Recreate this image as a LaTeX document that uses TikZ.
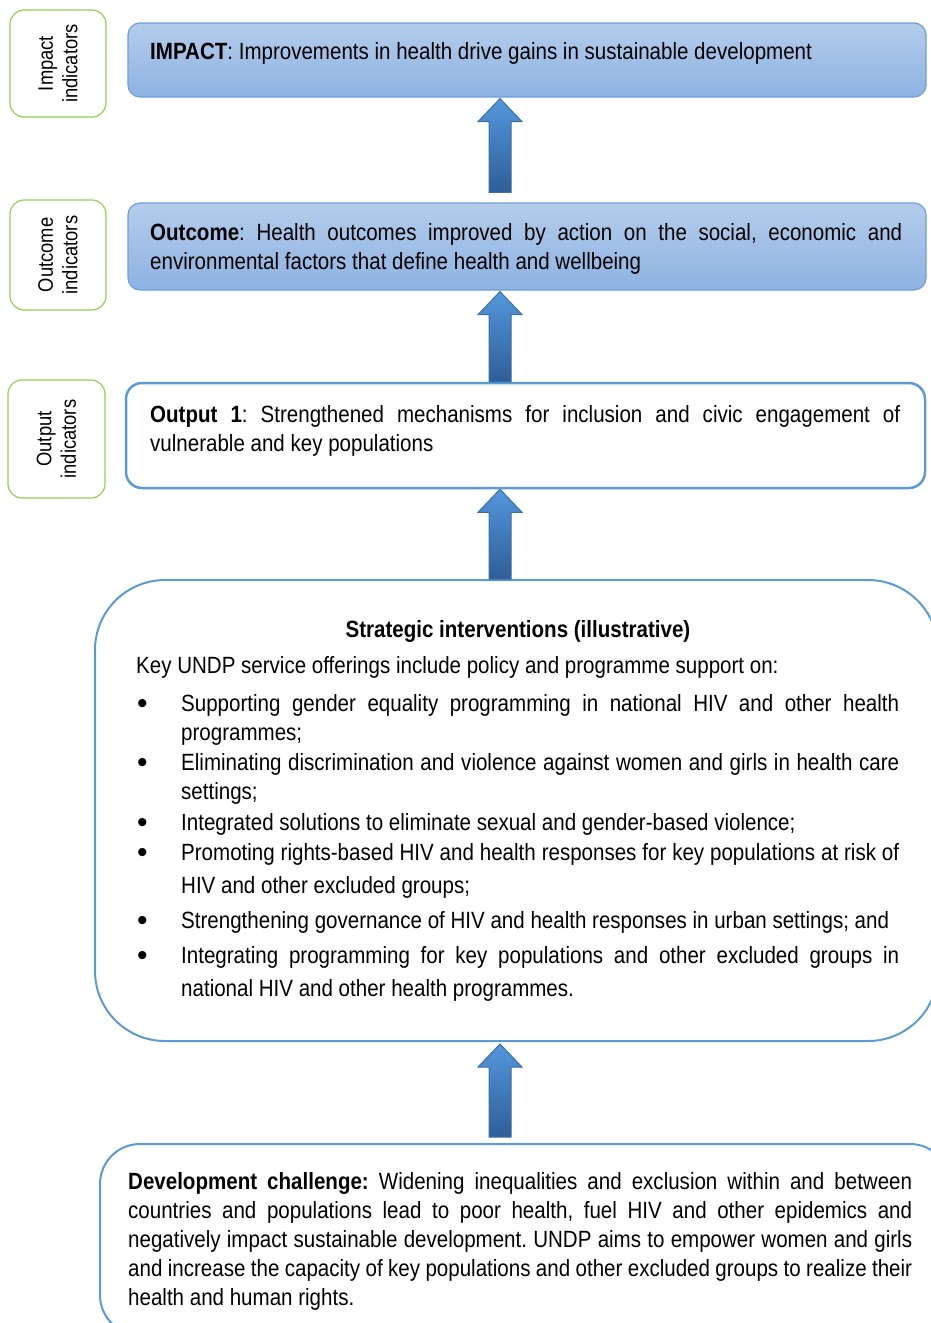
\documentclass[tikz,border=0pt]{standalone}
\usepackage{fontspec}
\setmainfont[FakeStretch=0.874]{Liberation Sans}
\newfontfamily\bulletfont{Liberation Sans}
\usetikzlibrary{calc}
\definecolor{boxtop}{HTML}{B4CCEB}
\definecolor{boxbot}{HTML}{8DB3E2}
\definecolor{boxline}{HTML}{6E9FD8}
\definecolor{arrtop}{HTML}{5497DC}
\definecolor{arrbot}{HTML}{2E5E97}
\definecolor{arrline}{HTML}{3A6EAE}
\definecolor{framecol}{HTML}{5B9BD5}
\definecolor{indgreen}{HTML}{92D050}
\newcommand\blockarrow[2]{%
  \draw[bigarrow] (#1) -- ++(22,23) -- ++(-11,0) -- ($(#2)+(11,0)$) -- ($(#2)+(-11,0)$)
    -- ($(#1)+(-11,23)$) -- ++(-11,0) -- cycle;}
\newcommand\bul{\makebox[45pt][l]{\hspace{1pt}\raisebox{-2pt}{\bulletfont\fontsize{30}{29}\selectfont\textbullet}}}
\frenchspacing
\begin{document}
\begin{tikzpicture}[x=1pt,y=-1pt,
  sidebox/.style={draw=indgreen, line width=1.2pt, rounded corners=14pt, fill=white},
  bluebox/.style={draw=boxline, line width=1.2pt, rounded corners=12pt, top color=boxtop, bottom color=boxbot},
  whitebox/.style={draw=framecol, line width=2.5pt, fill=white},
  sidelabel/.style={rotate=90, align=center, font=\fontsize{21}{24.5}\selectfont\frenchspacing, inner sep=0pt},
  bodytext/.style={font=\fontsize{23.5}{29}\selectfont\frenchspacing, inner sep=0pt, align=justify, anchor=north west},
  widetext/.style={font=\fontsize{23.5}{33}\selectfont\frenchspacing, inner sep=0pt, align=justify, anchor=north west},
  linetext/.style={font=\fontsize{23.5}{29}\selectfont\frenchspacing, inner sep=0pt, anchor=base west},
  bigarrow/.style={draw=arrline, line width=1pt, top color=arrtop, bottom color=arrbot},
]
\useasboundingbox (0,0) rectangle (931,1323);
\begin{scope}
\clip (0,0) rectangle (931,1323);
% side indicator boxes
\node[sidebox, minimum width=96pt, minimum height=107pt] (impside) at (58,63.5) {};
\node[sidelabel] (implab) at (impside.center) {Impact\\indicators};
\node[sidebox, minimum width=96pt, minimum height=110pt] (outcside) at (58,255) {};
\node[sidelabel] (outclab) at (outcside.center) {Outcome\\indicators};
\node[sidebox, minimum width=97pt, minimum height=118pt] (outpside) at (56.5,439) {};
\node[sidelabel] (outplab) at (outpside.center) {Output\\indicators};
% main boxes
\node[bluebox, minimum width=798pt, minimum height=74pt] (impact) at (527,60) {};
\node[bluebox, minimum width=798pt, minimum height=87pt] (outcome) at (527,246.5) {};
\node[whitebox, rounded corners=16pt, minimum width=799pt, minimum height=105pt] (output) at (525.5,435.5) {};
\node[whitebox, line width=2pt, rounded corners=70pt, minimum width=843pt, minimum height=461pt] (strat) at (516.5,810.5) {};
\node[whitebox, line width=2pt, rounded corners=40pt, minimum width=850pt, minimum height=191pt] (dev) at (525,1239.5) {};
% arrows
\coordinate (ax) at (500,0);
\coordinate (t1) at ($(ax |- impact.south)+(0,1)$);
\coordinate (b1) at ($(ax |- outcome.north)+(0,-10)$);
\coordinate (t2) at ($(ax |- outcome.south)+(0,1)$);
\coordinate (b2) at (ax |- output.north);
\coordinate (t3) at (ax |- output.south);
\coordinate (b3) at (ax |- strat.north);
\coordinate (t4) at ($(ax |- strat.south)+(0,2)$);
\coordinate (b4) at ($(ax |- dev.north)+(0,-6)$);
\blockarrow{t1}{b1}
\blockarrow{t2}{b2}
\blockarrow{t3}{b3}
\blockarrow{t4}{b4}
% texts
\node[linetext] (imptext) at (150,59) {\textbf{IMPACT}: Improvements in health drive gains in sustainable development};
\node[bodytext, text width=752pt] (outctext) at (150,219.7) {\strut\textbf{Outcome}: Health outcomes improved by action on the social, economic and\linebreak environmental factors that define health and wellbeing\par};
\node[bodytext, text width=750pt] (outptext) at (150,401.7) {\strut\textbf{Output 1}: Strengthened mechanisms for inclusion and civic engagement of\linebreak vulnerable and key populations\par};
\node[font=\fontsize{23.5}{29}\selectfont\bfseries, inner sep=0pt, anchor=base] (strattitle) at (518,637) {Strategic interventions (illustrative)};
\node[linetext] (keyline) at (136,673) {Key UNDP service offerings include policy and programme support on:};
\node[bodytext, text width=763pt] (item1) at (136,690.7) {\hangindent=45pt\hangafter=1\bul\strut Supporting gender equality programming in national HIV and other health\linebreak programmes;\par};
\node[bodytext, text width=763pt] (item2) at (136,749.7) {\hangindent=45pt\hangafter=1\bul\strut Eliminating discrimination and violence against women and girls in health care\linebreak settings;\par};
\node[bodytext, text width=763pt] (item3) at (136,809.7) {\hangindent=45pt\hangafter=1\bul\strut Integrated solutions to eliminate sexual and gender-based violence;\par};
\node[widetext, text width=763pt] (item4) at (136,836.9) {\hangindent=45pt\hangafter=1\bul\strut Promoting rights-based HIV and health responses for key populations at risk of\linebreak HIV and other excluded groups;\par};
\node[bodytext, text width=763pt] (item5) at (136,907.7) {\hangindent=45pt\hangafter=1\bul\strut Strengthening governance of HIV and health responses in urban settings; and\par};
\node[widetext, text width=763pt] (item6) at (136,939.9) {\hangindent=45pt\hangafter=1\bul\strut Integrating programming for key populations and other excluded groups in\linebreak national HIV and other health programmes.\par};
\node[bodytext, text width=784pt] (devtext) at (128,1168.7) {\strut\textbf{Development challenge:} Widening inequalities and exclusion within and between\linebreak countries and populations lead to poor health, fuel HIV and other epidemics and\linebreak negatively impact sustainable development. UNDP aims to empower women and girls\linebreak and increase the capacity of key populations and other excluded groups to realize their\linebreak health and human rights.\par};
\end{scope}
\end{tikzpicture}
\end{document}
